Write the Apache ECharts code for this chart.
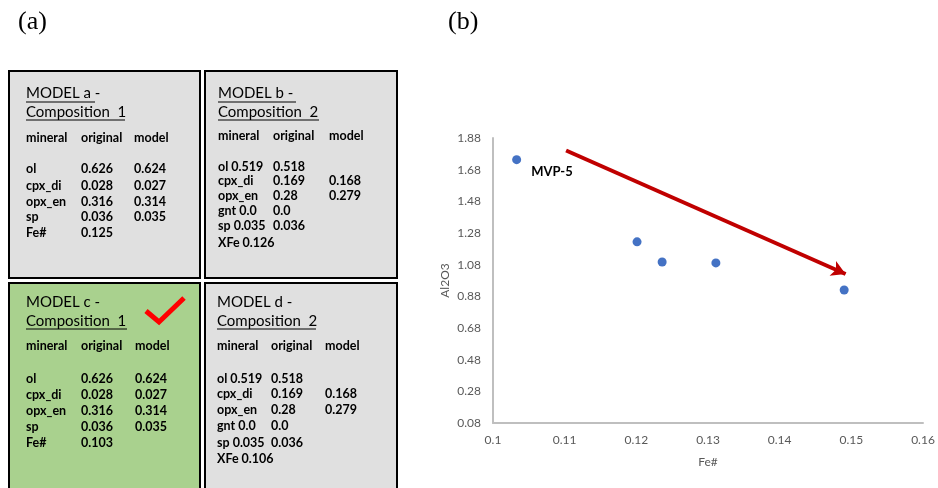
<!DOCTYPE html>
<html>
<head>
<meta charset="utf-8">
<script src="https://cdn.jsdelivr.net/npm/echarts@6/dist/echarts.min.js"></script>
<style>html,body{margin:0;padding:0;background:#fff}#c{width:938px;height:488px}</style>
</head>
<body>
<div id="c"></div>
<script>
// ---- scatter data ----
var feNum = [0.1033, 0.1201, 0.1236, 0.1311, 0.1490];
var al2o3 = [1.743, 1.224, 1.097, 1.091, 0.920];
var pointLabels = ['MVP-5', '', '', '', ''];
var arrowFrom = [0.1102, 1.801];
var arrowTo = [0.1492, 1.021];
var xTicks = [0.1, 0.11, 0.12, 0.13, 0.14, 0.15, 0.16];
var yTicks = [0.08, 0.28, 0.48, 0.68, 0.88, 1.08, 1.28, 1.48, 1.68, 1.88];

// ---- panel (a) texts ----
var boxTitles = ['MODEL a -', 'MODEL b -', 'MODEL c -', 'MODEL d -'];
var boxSubtitles = ['Composition  1', 'Composition  2', 'Composition  1', 'Composition  2'];
var tableHeader = ['mineral', 'original', 'model'];
var rowsA = [['ol','0.626','0.624'],['cpx_di','0.028','0.027'],['opx_en','0.316','0.314'],['sp','0.036','0.035'],['Fe#','0.125','']];
var rowsB = [['ol 0.519','0.518',''],['cpx_di','0.169','0.168'],['opx_en','0.28','0.279'],['gnt 0.0','0.0',''],['sp 0.035','0.036',''],['XFe 0.126','','']];
var rowsC = [['ol','0.626','0.624'],['cpx_di','0.028','0.027'],['opx_en','0.316','0.314'],['sp','0.036','0.035'],['Fe#','0.103','']];
var rowsD = [['ol 0.519','0.518',''],['cpx_di','0.169','0.168'],['opx_en','0.28','0.279'],['gnt 0.0','0.0',''],['sp 0.035','0.036',''],['XFe 0.106','','']];

var FONT = 'Lato, "Open Sans", sans-serif';
var TBL = 12.5;
var graphics = [];

function txt(x, y, s, size, weight, family, color) {
  graphics.push({type:'text', x:x, y:y, style:{text:s, fontSize:size, fontWeight:weight||'normal', fontFamily:family||FONT, fill:color||'#000', verticalAlign:'middle', align:'left'}, z:10});
}
function line(x1,y1,x2,y2,w,c){
  graphics.push({type:'line', shape:{x1:x1,y1:y1,x2:x2,y2:y2}, style:{stroke:c||'#000', lineWidth:w||1}, z:10});
}
function box(cfg){
  graphics.push({type:'rect', shape:{x:cfg.x, y:cfg.y, width:cfg.w, height:cfg.h}, style:{fill:cfg.fill, stroke:'#000', lineWidth:2}, z:5});
  txt(cfg.tx, cfg.t1, boxTitles[cfg.i], 15);
  if (cfg.u1) line(cfg.tx, cfg.t1+9, cfg.tx + cfg.u1, cfg.t1+9, 1);
  txt(cfg.tx, cfg.t2, boxSubtitles[cfg.i], 15);
  line(cfg.tx, cfg.t2+8, cfg.tx + cfg.u2, cfg.t2+8, 1);
  for (var k=0;k<3;k++) txt(cfg.cols[k], cfg.hy, tableHeader[k], TBL, 'bold');
  cfg.rows.forEach(function(r, j){
    for (var k=0;k<3;k++) if (r[k]) txt(cfg.cols[k], cfg.ry[j], r[k], TBL, 'bold');
  });
}

box({i:0, x:9, y:71, w:191, h:207, fill:'#E0E0E0', tx:26, t1:93, t2:112, u1:69, u2:99,
     cols:[26,81,134], hy:138, rows:rowsA, ry:[169,186,202,217,233]});
box({i:1, x:205, y:71, w:192, h:207, fill:'#E0E0E0', tx:218, t1:93, t2:112, u1:78, u2:101,
     cols:[218,273,329], hy:136, rows:rowsB, ry:[167,181,196,211,226,243]});
box({i:2, x:9, y:283, w:191, h:220, fill:'#A9D18E', tx:26, t1:302, t2:321, u1:0, u2:101,
     cols:[26,81,135], hy:346, rows:rowsC, ry:[379,395,411,427,443]});
box({i:3, x:205, y:283, w:192, h:220, fill:'#E0E0E0', tx:217, t1:302, t2:321, u1:0, u2:99,
     cols:[217,271,325], hy:346, rows:rowsD, ry:[379,394,410,426,443,459]});

// check mark
graphics.push({type:'polyline', shape:{points:[[146,311],[159,322],[184,298]]}, style:{stroke:'#FF0000', lineWidth:5, fill:null}, z:11});

// panel labels
txt(18, 22, '(a)', 26, 'normal', '"Liberation Serif", serif');
txt(448, 22, '(b)', 26, 'normal', '"Liberation Serif", serif');

var points = feNum.map(function(x, i){ return {value:[x, al2o3[i]], label:{show: !!pointLabels[i], formatter: pointLabels[i]}}; });

var chart = echarts.init(document.getElementById('c'), null, {renderer:'canvas'});
chart.setOption({
  animation:false,
  backgroundColor:'#fff',
  grid:{left:493, right:15, top:138, bottom:65, containLabel:false},
  xAxis:{type:'value', min:xTicks[0], max:xTicks[xTicks.length-1], interval:0.01,
    name:'Fe#', nameLocation:'middle', nameGap:33,
    nameTextStyle:{color:'#595959', fontSize:12, fontFamily:FONT},
    axisLine:{show:true, onZero:false, lineStyle:{color:'#BFBFBF', width:2}},
    axisTick:{show:false}, splitLine:{show:false},
    axisLabel:{color:'#595959', fontSize:12, fontFamily:FONT, margin:11, formatter:function(v){return String(+v.toFixed(2));}}},
  yAxis:{type:'value', min:yTicks[0], max:yTicks[yTicks.length-1], interval:0.2,
    name:'Al2O3', nameLocation:'middle', nameGap:42,
    nameTextStyle:{color:'#595959', fontSize:12, fontFamily:FONT},
    axisLine:{show:true, onZero:false, lineStyle:{color:'#BFBFBF', width:2}},
    axisTick:{show:false}, splitLine:{show:false},
    axisLabel:{color:'#595959', fontSize:12, fontFamily:FONT, margin:12, formatter:function(v){return v.toFixed(2);}}},
  series:[{
    type:'scatter', symbolSize:9, itemStyle:{color:'#4472C4', opacity:1},
    data:points,
    label:{position:'right', distance:0, offset:[10,12], color:'#000', fontWeight:'bold', fontSize:13, fontFamily:FONT},
    markLine:{silent:true, symbol:['none','arrow'], symbolSize:[12,14],
      lineStyle:{color:'#C00000', width:4, type:'solid'}, label:{show:false},
      data:[[{coord:arrowFrom},{coord:arrowTo}]]}
  }],
  graphic:graphics
});
</script>
</body>
</html>
